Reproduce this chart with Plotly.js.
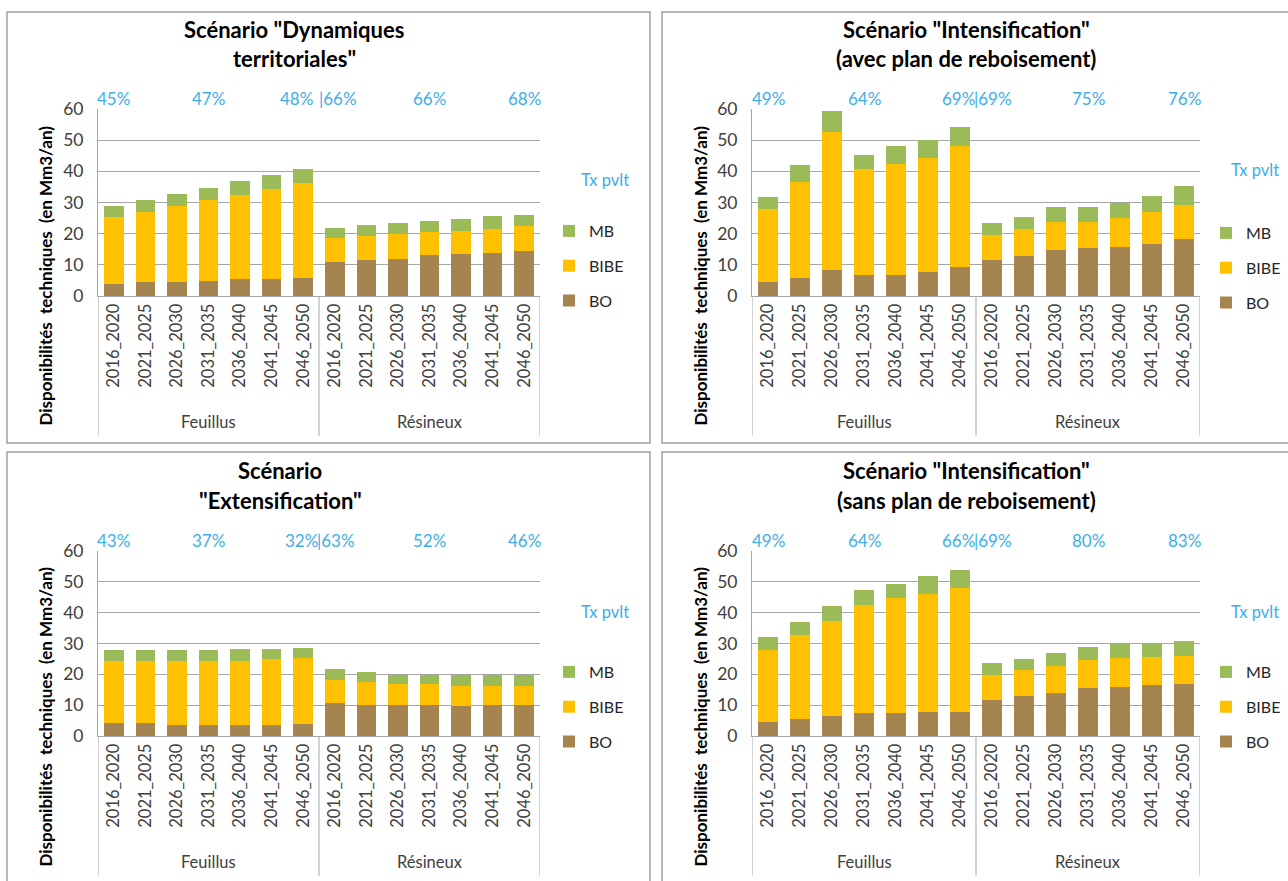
<!DOCTYPE html>
<html><head><meta charset="utf-8">
<script src="https://cdn.plot.ly/plotly-3.0.1.min.js"></script>
<style>html,body{margin:0;padding:0;background:#fff}#chart{width:1288px;height:881px}</style>
</head><body><div id="chart"></div>
<script>
// ---------- DATA ----------
const periods = ['2016_2020','2021_2025','2026_2030','2031_2035','2036_2040','2041_2045','2046_2050'];
const groups = ['Feuillus','Résineux'];
const seriesNames = ['BO','BIBE','MB'];

const titles1 = ['Scénario "Dynamiques', 'territoriales"'];
const titles2 = ['Scénario "Intensification"', '(avec plan de reboisement)'];
const titles3 = ['Scénario', '"Extensification"'];
const titles4 = ['Scénario "Intensification"', '(sans plan de reboisement)'];

const bo1   = [4.0,4.4,4.4,4.8,5.3,5.3,5.8, 11.0,11.5,11.9,13.0,13.4,13.8,14.3];
const bibe1 = [21.2,22.7,24.6,26.1,27.0,28.9,30.3, 7.6,7.7,8.1,7.5,7.6,7.6,8.1];
const mb1   = [3.6,3.7,3.7,3.7,4.7,4.5,4.6, 3.3,3.6,3.3,3.7,3.8,4.2,3.6];

const bo2   = [4.4,5.8,8.2,6.7,6.7,7.7,9.2, 11.5,12.9,14.9,15.3,15.8,16.7,18.2];
const bibe2 = [23.4,30.9,44.3,33.9,35.8,36.7,39.0, 8.1,8.7,9.0,8.6,9.1,10.1,11.1];
const mb2   = [4.1,5.2,7.0,4.6,5.6,5.7,6.0, 3.8,3.7,4.8,4.8,4.8,5.2,5.9];

const bo3   = [4.2,4.2,3.6,3.6,3.6,3.6,4.0, 10.6,10.1,10.1,10.1,9.6,10.1,10.1];
const bibe3 = [20.2,20.2,20.8,20.8,20.8,21.4,21.4, 7.7,7.3,6.8,6.8,6.7,6.2,6.2];
const mb3   = [3.4,3.4,3.4,3.4,3.8,3.2,3.2, 3.3,3.2,3.0,2.8,3.4,3.4,3.4];

const bo4   = [4.4,5.5,6.5,7.4,7.4,7.8,7.8, 11.7,13.1,14.1,15.5,15.9,16.5,16.9];
const bibe4 = [23.5,27.1,30.9,35.2,37.2,38.4,40.2, 8.1,8.2,8.6,9.2,9.3,9.0,9.1];
const mb4   = [4.2,4.3,4.8,4.9,4.7,5.6,5.8, 3.8,3.8,4.3,4.2,4.8,4.8,4.8];

const pct1 = ['45%','47%','48%','66%','66%','68%'];
const pct2 = ['49%','64%','69%','69%','75%','76%'];
const pct3 = ['43%','37%','32%','63%','52%','46%'];
const pct4 = ['49%','64%','66%','69%','80%','83%'];

const yTitle = 'Disponibilités  techniques  (en Mm3/an)';
const legendTitle = 'Tx pvlt';
const yTicks = [0,10,20,30,40,50,60];

// ---------- STYLE ----------
const W = 1288, H = 881;
const FONT = 'Lato, "Open Sans", sans-serif';
const colors = {BO:'#a6844f', BIBE:'#ffc000', MB:'#9bbb59'};
const ranks = {MB:1, BIBE:2, BO:3};
const blue = '#3daee9';
const grey = '#a6a6a6';
const txt = '#404040';
const PX = x => x / W;
const PY = y => 1 - y / H;

const panels = [
  {id:'', bo:bo1, bibe:bibe1, mb:mb1, pct:pct1, titles:titles1, left:98, right:540, top:109, bottom:296, box:[7,12,650,443], tcx:294, t1:29, t2:59, ytx:45, pctY:99, legX:549, legY:214, txX:605, txY:180, sep:[-4,-2]},
  {id:'2', bo:bo2, bibe:bibe2, mb:mb2, pct:pct2, titles:titles2, left:752, right:1200, top:109, bottom:296, box:[662,12,1295,443], tcx:966, t1:29, t2:59, ytx:700, pctY:99, legX:1206, legY:216, txX:1255, txY:170, sep:[1,-4]},
  {id:'3', bo:bo3, bibe:bibe3, mb:mb3, pct:pct3, titles:titles3, left:98, right:540, top:551, bottom:736, box:[7,452,650,886], tcx:280, t1:470, t2:500, ytx:45, pctY:540, legX:549, legY:655, txX:605, txY:612, sep:[1,-4]},
  {id:'4', bo:bo4, bibe:bibe4, mb:mb4, pct:pct4, titles:titles4, left:752, right:1200, top:551, bottom:736, box:[662,452,1295,886], tcx:966, t1:470, t2:500, ytx:700, pctY:540, legX:1206, legY:655, txX:1255, txY:612, sep:[1,-4]}
];

const xcats = periods.concat(periods);
const xidx = xcats.map((_, i) => i);

const data = [];
const layout = {
  width: W, height: H, margin: {l:0, r:0, t:0, b:0},
  paper_bgcolor: '#fff', plot_bgcolor: '#fff',
  barmode: 'stack', bargap: 0.38,
  font: {family: FONT, color: txt},
  showlegend: true,
  annotations: [], shapes: []
};

panels.forEach((p, k) => {
  const xa = 'x' + p.id, ya = 'y' + p.id;
  const legName = k === 0 ? 'legend' : 'legend' + (k + 1);
  const vals = {BO: p.bo, BIBE: p.bibe, MB: p.mb};
  seriesNames.forEach(s => {
    data.push({
      type: 'bar', name: s, x: xidx, y: vals[s], xaxis: xa, yaxis: ya,
      marker: {color: colors[s], line: {width: 0}},
      legend: legName, legendgroup: 'p' + k + s, legendrank: ranks[s], hoverinfo: 'y+name'
    });
  });
  const axX = 'xaxis' + p.id, axY = 'yaxis' + p.id;
  layout[axX] = {
    domain: [PX(p.left), PX(p.right)], anchor: ya,
    range: [-0.5, 13.5], tickmode: 'array', tickvals: xidx, ticktext: xcats,
    tickangle: -90, showgrid: false, zeroline: false,
    showline: true, linecolor: grey, linewidth: 1, ticks: '',
    tickfont: {family: FONT, size: 16.5, color: txt}, fixedrange: true
  };
  layout[axY] = {
    domain: [PY(p.bottom), PY(p.top)], anchor: xa,
    range: [0, 60], tickmode: 'array', tickvals: yTicks,
    showgrid: true, gridcolor: grey, gridwidth: 1, zeroline: false,
    showline: true, linecolor: grey, linewidth: 1, ticks: '',
    ticklabelstandoff: 10,
    tickfont: {family: FONT, size: 17.5, color: txt}, fixedrange: true
  };
  layout[legName] = {
    x: PX(p.legX), y: PY(p.legY), xanchor: 'left', yanchor: 'top',
    traceorder: 'grouped', tracegroupgap: 11,
    bgcolor: 'rgba(0,0,0,0)', borderwidth: 0,
    font: {family: FONT, size: 16, color: '#262626'}, itemwidth: 30
  };
  // panel border
  layout.shapes.push({type:'rect', xref:'paper', yref:'paper',
    x0: PX(p.box[0]), x1: PX(p.box[2]), y0: PY(p.box[3]), y1: PY(p.box[1]),
    line: {color: '#a0a0a0', width: 1.5}, fillcolor: 'rgba(0,0,0,0)', layer: 'below'});
  // category group separators
  const dh = (p.bottom - p.top);
  [-0.5, 6.5, 13.5].forEach(xv => {
    layout.shapes.push({type:'line', xref: xa, yref: ya + ' domain',
      x0: xv, x1: xv, y0: 0, y1: -140 / dh, line: {color: grey, width: 1}});
  });
  // group labels
  [3, 10].forEach((xv, gi) => {
    layout.annotations.push({xref: xa, yref: ya + ' domain', x: xv, y: -126 / dh,
      text: groups[gi], showarrow: false, yanchor: 'middle',
      font: {family: FONT, size: 16.5, color: txt}});
  });
  // titles
  p.titles.forEach((t, i) => {
    layout.annotations.push({xref:'paper', yref:'paper', x: PX(p.tcx), y: PY(i === 0 ? p.t1 : p.t2),
      text: '<b>' + t + '</b>', showarrow: false, xanchor: 'center', yanchor: 'middle',
      font: {family: FONT, size: 22, color: '#000'}});
  });
  // y title
  layout.annotations.push({xref:'paper', yref:'paper', x: PX(p.ytx), y: PY((p.top + p.bottom) / 2 + 73),
    text: '<b>' + yTitle + '</b>', textangle: -90, showarrow: false,
    xanchor: 'center', yanchor: 'middle', font: {family: FONT, size: 17, color: '#000'}});
  // percent labels
  const pctPos = [0, 3, 6.5, 6.5, 10, 13];
  p.pct.forEach((t, i) => {
    const a = {xref: xa, yref: 'paper', x: pctPos[i], y: PY(p.pctY), showarrow: false,
      yanchor: 'middle', font: {family: FONT, size: 17, color: blue}, text: t};
    if (i === 2) { a.xanchor = 'right'; a.xshift = p.sep[0]; }
    else if (i === 3) { a.xanchor = 'left'; a.xshift = p.sep[1]; a.text = '|' + t; }
    else a.xanchor = 'center';
    layout.annotations.push(a);
  });
  // Tx pvlt
  layout.annotations.push({xref:'paper', yref:'paper', x: PX(p.txX), y: PY(p.txY),
    text: legendTitle, showarrow: false, xanchor: 'center', yanchor: 'middle',
    font: {family: FONT, size: 16.5, color: blue}});
});

Plotly.newPlot('chart', data, layout, {displayModeBar: false, staticPlot: true});
</script></body></html>
